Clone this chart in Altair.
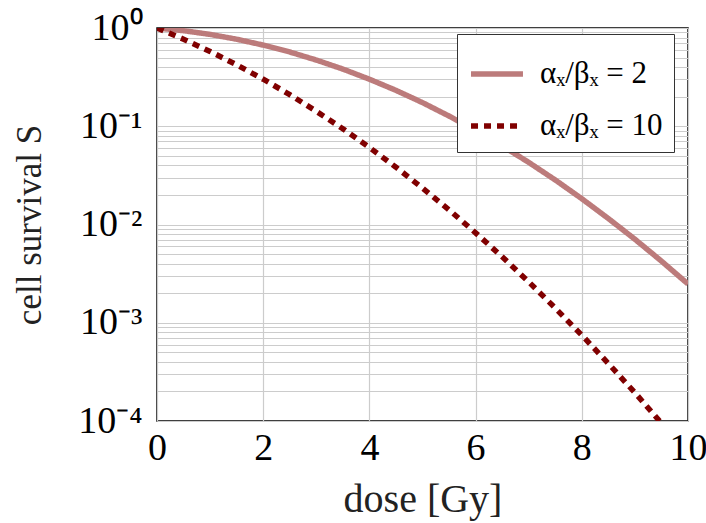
import altair as alt
import pandas as pd

dose = [0, 0.5, 1, 1.5, 2, 2.5, 3, 3.5, 4, 4.5, 5, 5.5, 6, 6.5, 7, 7.5, 8, 8.5, 9, 9.5, 10]
surv_ab2 = [1.0, 0.939, 0.861, 0.769, 0.670, 0.570, 0.472, 0.382, 0.301, 0.232, 0.174,
            0.127, 0.0907, 0.0631, 0.0429, 0.0284, 0.0183, 0.0115, 0.00708, 0.00424, 0.00248]
surv_ab10 = [1.0, 0.769, 0.577, 0.422, 0.301, 0.210, 0.142, 0.0942, 0.0608, 0.0383, 0.0235,
             0.0141, 0.00823, 0.00469, 0.00261, 0.00141, 0.000747, 0.000385, 0.000194,
             0.0000949, 0.0000454]
series_names = ["αₓ/βₓ = 2", "αₓ/βₓ = 10"]
series_colors = ["#bc7b7b", "#800000"]
series_dash = [[1, 0], [7, 6]]

y_ticks = []
for e in [1e-4, 1e-3, 1e-2, 1e-1]:
    for m in range(1, 10):
        y_ticks.append(round(m * e, 8))
y_ticks.append(1.0)

rows = []
for d, a, b in zip(dose, surv_ab2, surv_ab10):
    rows.append({"dose": d, "S": a, "series": series_names[0]})
    rows.append({"dose": d, "S": b, "series": series_names[1]})
df = pd.DataFrame(rows)

font = "Liberation Serif"

label_expr = ("datum.value >= 0.99 ? '10⁰' : abs(datum.value - 0.1) < 1e-6 ? '10⁻¹' : "
              "abs(datum.value - 0.01) < 1e-7 ? '10⁻²' : abs(datum.value - 0.001) < 1e-8 ? '10⁻³' : "
              "abs(datum.value - 0.0001) < 1e-9 ? '10⁻⁴' : ''")

legend = alt.Legend(title=None, orient="none", legendX=300, legendY=6, labelFont=font)

chart = alt.Chart(df).mark_line(clip=True, strokeWidth=5.5, strokeCap="butt").encode(
    x=alt.X("dose:Q", scale=alt.Scale(domain=[0, 10], nice=False),
            axis=alt.Axis(values=[0, 2, 4, 6, 8, 10], title="dose [Gy]", grid=True,
                          ticks=False, domain=False, labelPadding=8, titlePadding=12,
                          labelFlush=False)),
    y=alt.Y("S:Q", scale=alt.Scale(type="log", domain=[1e-4, 1], nice=False),
            axis=alt.Axis(values=y_ticks, labelExpr=label_expr, title="cell survival S",
                          grid=True, ticks=False, domain=False, labelOverlap=False,
                          labelPadding=15, titlePadding=30, labelFlush=False)),
    color=alt.Color("series:N", scale=alt.Scale(domain=series_names, range=series_colors),
                    legend=legend),
    strokeDash=alt.StrokeDash("series:N", scale=alt.Scale(domain=series_names, range=series_dash),
                              legend=legend),
    order=alt.Order("dose:Q"),
).properties(
    width=531, height=393,
    padding={"left": 157, "top": 28, "right": 18, "bottom": 102},
    autosize=alt.AutoSizeParams(type="none"),
).configure_view(
    stroke="black", strokeWidth=1.5
).configure_axis(
    labelFont=font, titleFont=font, labelFontSize=38,
    labelColor="black", titleColor="#222", titleFontWeight="normal",
    gridColor="#cccccc", gridWidth=1.2,
).configure_axisX(
    titleFontSize=40,
).configure_axisY(
    titleFontSize=35,
).configure_legend(
    labelFont=font, labelFontSize=31, labelColor="black",
    strokeColor="#333", fillColor="white", padding=11,
    symbolType="stroke", symbolSize=2700, symbolStrokeWidth=5.5,
    rowPadding=8, labelOffset=14, labelLimit=400,
)

chart.save("out.html", embed_options={"renderer": "svg", "actions": False})
